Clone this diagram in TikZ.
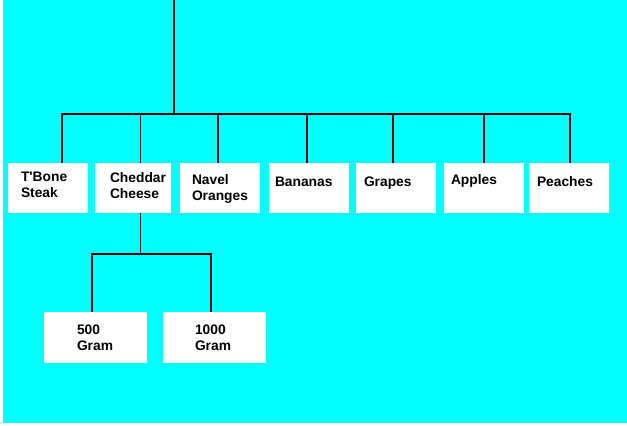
\documentclass[tikz,border=0pt]{standalone}
\usepackage{fontspec}
\setmainfont{Liberation Sans}
\usepackage{xcolor}
\usepackage{tikz}
\definecolor{ScreenCyan}{RGB}{0, 255, 255}
\newcommand{\leaffont}{\fontsize{13.8}{16}\selectfont\bfseries\hyphenpenalty=10000 }

\tikzset{
  box/.style={fill=white, inner sep=0pt, align=left, font=\leaffont},
  leaf/.style={box, minimum width=80, minimum height=50, text width=54pt, text depth=22pt},
  oneline/.style={text depth=13pt},
  gram/.style={box, minimum width=103, minimum height=51, text width=37pt},
  branch/.style={draw=black, line width=1.5pt}
}

\begin{document}
\begin{tikzpicture}[x=1pt, y=-1pt]
    \useasboundingbox (0,0) rectangle (627,426);
    \fill[ScreenCyan] (2.5,0) rectangle (627,423);

    % first row
    \node[leaf] (tbone) at (48,188) {T\textquotesingle Bone\\Steak};
    \node[leaf, minimum width=76, text width=46pt] (cheddar) at (133,188) {Cheddar\\Cheese};
    \node[leaf, text width=56pt, text depth=17pt] (navel) at (220,188) {Navel\\Oranges};
    \node[leaf, oneline, text width=68pt] (bananas) at (309,188) {Bananas};
    \node[leaf, oneline, text width=64pt] (grapes) at (396,188) {Grapes};
    \node[leaf, oneline, text width=66pt, text depth=18pt] (apples) at (484,188) {Apples};
    \node[leaf, oneline, text width=64pt] (peaches) at (569,188) {Peaches};

    % second row
    \node[gram] (gram500) at (95.5,337.5) {500\\Gram};
    \node[gram, text width=39pt] (gram1000) at (214.5,337.5) {1000\\Gram};

    \coordinate (top) at (174,0);
    \coordinate (hub) at (174,114);
    \coordinate (subhub) at (140.5,254);

    \draw[branch] (top) -- (hub);
    \foreach \leafname/\dx in {tbone/14, cheddar/7.5, navel/-2, bananas/-2, grapes/-3, apples/0, peaches/1}
      \draw[branch] ([xshift=\dx]\leafname.north) |- (hub);

    \draw[branch] ([xshift=7.5]cheddar.south) -- (subhub);
    \draw[branch] (subhub) -| ([xshift=-3.5]gram500.north);
    \draw[branch] (subhub) -| ([xshift=-3.5]gram1000.north);
  \end{tikzpicture}
\end{document}
